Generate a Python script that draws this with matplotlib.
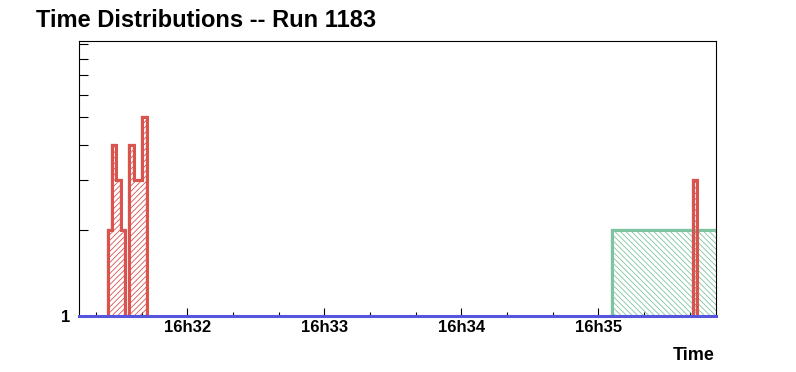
import numpy as np
import matplotlib
matplotlib.use("Agg")
import matplotlib.pyplot as plt
from matplotlib.ticker import FixedLocator, FuncFormatter, NullFormatter

plt.rcParams['font.family'] = ['Liberation Sans', 'DejaVu Sans']
plt.rcParams['hatch.linewidth'] = 0.6

# ---- data (times as seconds of day) ----
def tsec(s):
    h, m, sec = s.split(":")
    return int(h) * 3600 + int(m) * 60 + float(sec)

title = "Time Distributions -- Run 1183"
xlabel = "Time"
x_range = ["16:31:12.6", "16:35:51.6"]

red_start = "16:31:25.1"
red_bin_width = 1.9            # seconds
red_counts = [2, 4, 3, 2, 0, 4, 3, 3, 5]

red2_start = "16:35:41.6"
red2_bin_width = 1.75
red2_counts = [3]

green_edges = ["16:35:06.0", "16:36:00.0"]
green_counts = [2]

major_ticks = ["16:32:00", "16:33:00", "16:34:00", "16:35:00"]
minor_step = 20  # seconds
y_minor_ticks = [2, 3, 4, 5, 6, 7, 8, 9]
y_range = [1, 9.25]

# ---- plot ----
W, H = 796, 372
fig = plt.figure(figsize=(W / 100, H / 100), dpi=100)
ax = fig.add_axes([79 / W, 1 - 316 / H, (716 - 79) / W, (316 - 41) / H])
ax.set_yscale('log')

red_col = '#d9534f'
green_col = '#7ec4a0'
blue_col = '#5555dd'

def draw_hist(counts, edges, color, hatch):
    vals = np.where(np.asarray(counts) > 0, counts, y_range[0]).astype(float)
    ax.stairs(vals, edges, baseline=y_range[0], fill=True, facecolor='none',
              edgecolor=color, hatch=hatch, linewidth=1.6, zorder=2)
    ax.stairs(vals, edges, baseline=y_range[0], fill=False,
              color=color, linewidth=2.2, zorder=3)

rs = tsec(red_start)
red_edges = rs + red_bin_width * np.arange(len(red_counts) + 1)
r2 = tsec(red2_start)
red2_edges = r2 + red2_bin_width * np.arange(len(red2_counts) + 1)
g_edges = np.array([tsec(t) for t in green_edges])

draw_hist(green_counts, g_edges, green_col, '\\\\\\\\\\\\')
draw_hist(red_counts, red_edges, red_col, '//////')
draw_hist(red2_counts, red2_edges, red_col, '//////')

ax.axhline(y_range[0], color=blue_col, linewidth=2.2, zorder=5, clip_on=False)

x0, x1 = tsec(x_range[0]), tsec(x_range[1])
ax.set_xlim(x0, x1)
ax.set_ylim(*y_range)

maj = [tsec(t) for t in major_ticks]
ax.xaxis.set_major_locator(FixedLocator(maj))
mins = np.arange(np.ceil(x0 / minor_step) * minor_step, x1, minor_step)
ax.xaxis.set_minor_locator(FixedLocator([m for m in mins if m not in maj]))
ax.xaxis.set_major_formatter(FuncFormatter(
    lambda v, p: "%dh%02d" % (int(v // 3600), int((v % 3600) // 60))))
ax.yaxis.set_major_locator(FixedLocator([1]))
ax.yaxis.set_major_formatter(FuncFormatter(lambda v, p: "%d" % v))
ax.yaxis.set_minor_locator(FixedLocator(y_minor_ticks))
ax.yaxis.set_minor_formatter(NullFormatter())

ax.tick_params(axis='x', which='major', direction='in', length=6, width=0.8,
               labelsize=12, pad=3)
ax.tick_params(axis='x', which='minor', direction='in', length=3, width=0.8)
ax.tick_params(axis='y', which='major', direction='in', length=6.5, width=0.8,
               labelsize=12, pad=6)
ax.tick_params(axis='y', which='minor', direction='in', length=6.5, width=0.8)
for lab in ax.get_xticklabels() + ax.get_yticklabels():
    lab.set_fontweight('bold')

for s in ax.spines.values():
    s.set_linewidth(0.8)

fig.text(715 / W, 1 - 360 / H, xlabel, ha='right', va='baseline',
         fontsize=13, fontweight='bold')
fig.text(36 / W, 1 - 26.7 / H, title, ha='left', va='baseline',
         fontsize=17, fontweight='bold')

fig.savefig("out.png", dpi=100)
